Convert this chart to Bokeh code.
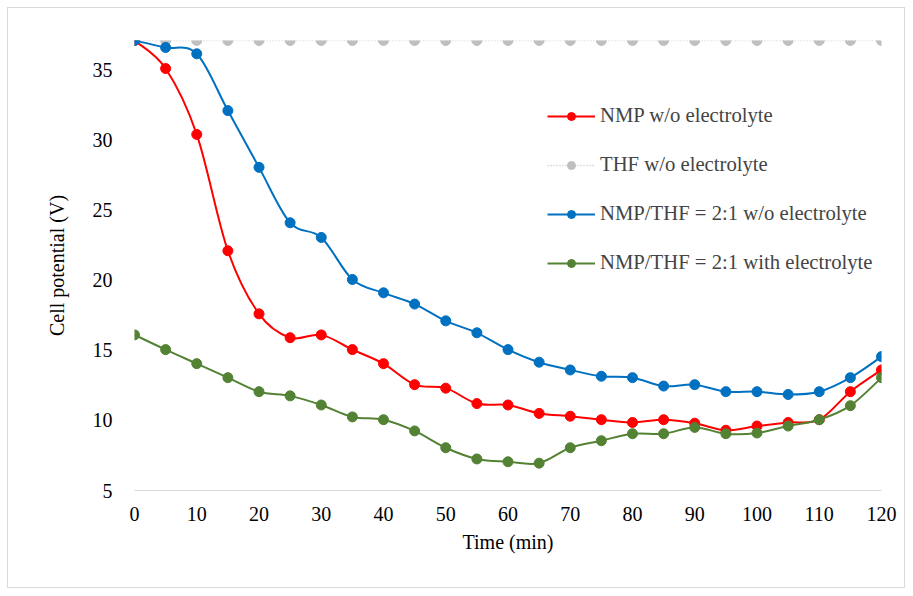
import numpy as np
from bokeh.plotting import figure
from bokeh.models import Legend, LegendItem, FixedTicker, Range1d
from bokeh.embed import file_html
from bokeh.resources import INLINE

time = [0, 5, 10, 15, 20, 25, 30, 35, 40, 45, 50, 55, 60, 65, 70, 75, 80, 85, 90, 95, 100, 105, 110, 115, 120]
nmp = [37.1, 35.1, 30.4, 22.1, 17.6, 15.9, 16.1, 15.05, 14.05, 12.55, 12.3, 11.2, 11.1, 10.5, 10.3, 10.05, 9.85, 10.05, 9.8, 9.3, 9.6, 9.85, 10.05, 12.05, 13.6]
thf = [37.1] * 25
mix = [37.1, 36.6, 36.15, 32.1, 28.05, 24.1, 23.05, 20.05, 19.1, 18.3, 17.1, 16.25, 15.05, 14.15, 13.6, 13.15, 13.05, 12.45, 12.55, 12.05, 12.05, 11.85, 12.05, 13.05, 14.55]
mix_el = [16.1, 15.05, 14.05, 13.05, 12.05, 11.75, 11.1, 10.25, 10.05, 9.25, 8.05, 7.25, 7.05, 6.95, 8.05, 8.55, 9.05, 9.05, 9.5, 9.05, 9.1, 9.6, 10.05, 11.05, 13.05]
names = ["NMP w/o electrolyte", "THF w/o electrolyte",
         "NMP/THF = 2:1 w/o electrolyte", "NMP/THF = 2:1 with electrolyte"]
x_ticks = [0, 10, 20, 30, 40, 50, 60, 70, 80, 90, 100, 110, 120]
y_ticks = [5, 10, 15, 20, 25, 30, 35]

FONT = "Liberation Serif"
FS = "20px"

p = figure(width=898, height=581, output_backend="svg", toolbar_location=None,
           x_range=Range1d(0, 120), y_range=Range1d(5, 37.1),
           min_border_left=126, min_border_right=25, min_border_top=32, min_border_bottom=99)
p.styles = {"border": "1px solid #d9d9d9", "box-sizing": "border-box",
            "margin-left": "7px", "margin-top": "7px"}
p.outline_line_color = None
p.xgrid.grid_line_color = None
p.ygrid.grid_line_color = None

p.xaxis.ticker = FixedTicker(ticks=x_ticks)
p.yaxis.ticker = FixedTicker(ticks=y_ticks)
for ax in (p.xaxis, p.yaxis):
    ax.major_tick_line_color = None
    ax.minor_tick_line_color = None
    ax.major_label_text_font = FONT
    ax.major_label_text_font_size = FS
    ax.major_label_text_color = "#000000"
    ax.axis_label_text_font = FONT
    ax.axis_label_text_font_size = FS
    ax.axis_label_text_font_style = "normal"
    ax.axis_label_text_color = "#000000"
p.xaxis.axis_line_color = "#d9d9d9"
p.yaxis.axis_line_color = None
p.xaxis.axis_label = "Time (min)"
p.yaxis.axis_label = "Cell potential (V)"
p.xaxis.major_label_standoff = 10
p.yaxis.major_label_standoff = 16
p.xaxis.axis_label_standoff = 7
p.yaxis.axis_label_standoff = 22


def smooth(xs, ys):
    xs = np.asarray(xs, float)
    ys = np.asarray(ys, float)
    n = len(xs)
    x0, y0, x1, y1 = xs[:-1], ys[:-1], xs[1:], ys[1:]
    ip = np.clip(np.arange(n - 1) - 1, 0, n - 1)
    inn = np.clip(np.arange(n - 1) + 2, 0, n - 1)
    cx0 = x0 + (x1 - xs[ip]) / 6
    cy0 = y0 + (y1 - ys[ip]) / 6
    cx1 = x1 - (xs[inn] - x0) / 6
    cy1 = y1 - (ys[inn] - y0) / 6
    return dict(x0=x0, y0=y0, x1=x1, y1=y1, cx0=cx0, cy0=cy0, cx1=cx1, cy1=cy1)


series = [(nmp, "#ff0000", None), (thf, "#bfbfbf", "1 2"), (mix, "#0070c0", None), (mix_el, "#548235", None)]
items = []
for (vals, col, dash), name in zip(series, names):
    if dash:
        p.line(time, vals, line_color=col, line_width=1.5, line_dash=dash)
        leg_line = p.line(time[:1], vals[:1], line_color=col, line_width=1.5, line_dash=dash)
    else:
        p.bezier(**smooth(time, vals), line_color=col, line_width=2)
        leg_line = p.line(time[:1], vals[:1], line_color=col, line_width=2)
    sc = p.scatter(time, vals, size=10, fill_color=col, line_color=col)
    items.append(LegendItem(label=name, renderers=[leg_line, sc]))

legend = Legend(items=items, location=(413, 216), padding=0, spacing=26,
                glyph_width=48, glyph_height=20, label_height=20, label_standoff=5,
                label_text_font=FONT, label_text_font_size="20.7px",
                border_line_color=None, background_fill_alpha=0)
p.add_layout(legend, "center")

open("out.html", "w").write(file_html(p, INLINE))
